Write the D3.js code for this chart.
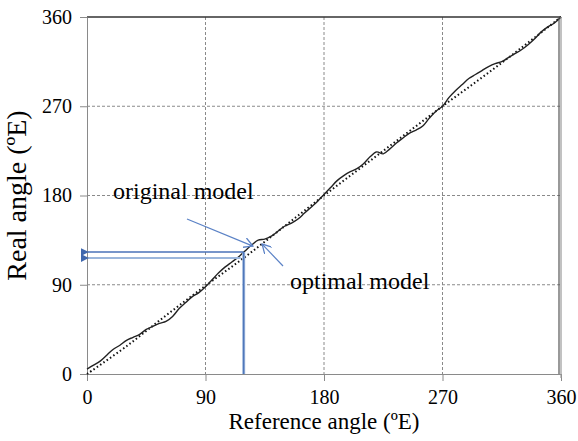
<!DOCTYPE html>
<html>
<head>
<meta charset="utf-8">
<script src="https://cdn.jsdelivr.net/npm/d3@7"></script>
<style>
  body { margin: 0; background: #fff; }
  svg text { font-family: "Times New Roman", Times, "Liberation Serif", "DejaVu Serif", serif; fill: #000; }
</style>
</head>
<body>
<script>
var width = 578
var height = 441
var margin = { left: 87, right: 17, top: 17, bottom: 67 }
var serif = '"Times New Roman", Times, "Liberation Serif", "DejaVu Serif", serif'

// reference angle (ºE) vs real angle (ºE)
var origRef = [0, 5, 10, 15, 20, 25, 30, 35, 40, 45, 50, 55, 60, 65, 70, 75, 80, 85, 90, 95, 100, 105, 110, 115, 120, 125, 130, 135, 140, 145, 150, 155, 160, 165, 170, 175, 180, 185, 190, 195, 200, 205, 210, 215, 220, 225, 230, 235, 240, 245, 250, 255, 260, 265, 270, 275, 280, 285, 290, 295, 300, 305, 310, 315, 320, 325, 330, 335, 340, 345, 350, 355, 360]
var origVal = [5, 9, 13, 19, 25, 29, 34, 37, 40, 45, 48, 51, 53, 58, 66, 72, 78, 82, 88, 95, 102, 108, 113, 118, 124, 130, 135, 136, 139, 144, 149, 152, 156, 162, 168, 174, 181, 188, 195, 200, 204, 207, 212, 219, 224, 222, 227, 233, 238, 243, 246, 250, 258, 265, 270, 279, 286, 292, 298, 302, 306, 310, 313, 315, 319, 323, 327, 332, 338, 345, 350, 354, 360]
var optRef = [0, 30, 60, 90, 120, 150, 180, 210, 240, 270, 300, 330, 360]
var optVal = [0, 28, 59, 89, 118, 149, 180, 210, 240, 270, 299, 329, 360]
var ticks = [0, 90, 180, 270, 360]

// read-off example: reference 119 -> original 123, optimal 117
var pickRef = 119
var pickOrig = 123
var pickOpt = 117

var innerWidth = width - margin.left - margin.right
var innerHeight = height - margin.top - margin.bottom

var svg = d3.select('body').append('svg').attr('width', width).attr('height', height)
svg.append('rect').attr('width', width).attr('height', height).attr('fill', '#fff')
var g = svg.append('g').attr('transform', `translate(${margin.left}, ${margin.top})`)

var x = d3.scaleLinear().domain([0, 360]).range([0, innerWidth])
var y = d3.scaleLinear().domain([0, 360]).range([innerHeight, 0])

// grid
g.selectAll('.gx').data(ticks.filter(d => d > 0 && d < 360)).enter().append('line')
    .attr('x1', d => x(d)).attr('x2', d => x(d)).attr('y1', 0).attr('y2', innerHeight)
    .attr('stroke', '#8a8a8a').attr('stroke-width', 1).attr('stroke-dasharray', '3,2')
g.selectAll('.gy').data(ticks.filter(d => d > 0 && d < 360)).enter().append('line')
    .attr('x1', 0).attr('x2', innerWidth).attr('y1', d => y(d)).attr('y2', d => y(d))
    .attr('stroke', '#8a8a8a').attr('stroke-width', 1).attr('stroke-dasharray', '3,2')
g.append('line').attr('x1', 0).attr('x2', innerWidth).attr('y1', y(360)).attr('y2', y(360))
    .attr('stroke', '#333').attr('stroke-width', 1.5)

// axes
var xAxis = d3.axisBottom(x).tickValues(ticks).tickSize(7).tickSizeOuter(0).tickPadding(9)
var yAxis = d3.axisLeft(y).tickValues(ticks).tickSize(7).tickSizeOuter(0).tickPadding(8)
var gx = g.append('g').attr('transform', `translate(0,${innerHeight})`).call(xAxis)
var gy = g.append('g').call(yAxis)
;[gx, gy].forEach(a => {
    a.attr('font-family', serif).attr('font-size', 20)
    a.select('.domain').attr('stroke', '#8a8a8a')
    a.selectAll('.tick line').attr('stroke', '#8a8a8a')
    a.selectAll('.tick text').attr('fill', '#000')
})

// series
var line = d3.line().x(d => x(d[0])).y(d => y(d[1])).curve(d3.curveCatmullRom)
var orig = origRef.map((r, i) => [r, origVal[i]])
var opt = optRef.map((r, i) => [r, optVal[i]])

g.append('path').datum(opt).attr('d', line).attr('fill', 'none')
    .attr('stroke', '#111').attr('stroke-width', 2).attr('stroke-dasharray', '1.5,2.5')
g.append('path').datum(orig).attr('d', line).attr('fill', 'none')
    .attr('stroke', '#222').attr('stroke-width', 1.4)
// wrap back to 0 at 360
g.append('line').attr('x1', x(360) - 2).attr('x2', x(360) - 2).attr('y1', y(360)).attr('y2', y(0))
    .attr('stroke', '#555').attr('stroke-width', 1.2)
g.append('line').attr('x1', x(360)).attr('x2', x(360)).attr('y1', y(360)).attr('y2', y(0) + 4)
    .attr('stroke', '#999').attr('stroke-width', 1.2)

// read-off lines
var defs = svg.append('defs')
defs.append('marker').attr('id', 'tri').attr('viewBox', '0 0 10 10').attr('refX', 1).attr('refY', 5)
    .attr('markerWidth', 8).attr('markerHeight', 8).attr('markerUnits', 'userSpaceOnUse').attr('orient', 'auto-start-reverse')
    .append('path').attr('d', 'M0,5L10,0L10,10Z').attr('fill', '#3f67ad')
defs.append('marker').attr('id', 'open').attr('viewBox', '0 0 10 10').attr('refX', 9).attr('refY', 5)
    .attr('markerWidth', 10).attr('markerHeight', 10).attr('markerUnits', 'userSpaceOnUse').attr('orient', 'auto')
    .append('path').attr('d', 'M0,0L9,5L0,10').attr('fill', 'none').attr('stroke', '#5b82c6').attr('stroke-width', 1.3)

g.append('line').attr('x1', x(pickRef)).attr('x2', x(pickRef)).attr('y1', y(0)).attr('y2', y(pickOrig))
    .attr('stroke', '#9bb6dc').attr('stroke-width', 3)
g.append('line').attr('x1', x(pickRef)).attr('x2', x(pickRef)).attr('y1', y(0)).attr('y2', y(pickOrig))
    .attr('stroke', '#4a72b8').attr('stroke-width', 1.2)
g.append('line').attr('x1', x(pickRef)).attr('x2', 1).attr('y1', y(pickOrig)).attr('y2', y(pickOrig))
    .attr('stroke', '#4a72b8').attr('stroke-width', 1.5).attr('marker-end', 'url(#tri)')
g.append('line').attr('x1', x(pickRef) - 3).attr('x2', 1).attr('y1', y(pickOpt)).attr('y2', y(pickOpt))
    .attr('stroke', '#9bb6dc').attr('stroke-width', 2.2).attr('marker-end', 'url(#tri)')

// annotation labels
g.append('text').attr('x', 26).attr('y', 182).attr('font-family', serif).attr('font-size', 24).text('original model')
g.append('line').attr('x1', 100).attr('y1', 202).attr('x2', x(126)).attr('y2', y(129))
    .attr('stroke', '#5b82c6').attr('stroke-width', 1.2).attr('marker-end', 'url(#open)')
g.append('text').attr('x', 203).attr('y', 272).attr('font-family', serif).attr('font-size', 24).text('optimal model')
g.append('line').attr('x1', 196).attr('y1', 249).attr('x2', x(133)).attr('y2', y(131))
    .attr('stroke', '#5b82c6').attr('stroke-width', 1.2).attr('marker-end', 'url(#open)')

// axis titles
svg.append('text').attr('x', margin.left + innerWidth / 2).attr('y', 429).attr('text-anchor', 'middle')
    .attr('font-family', serif).attr('font-size', 23).text('Reference angle (ºE)')
svg.append('text').attr('transform', `translate(26, ${margin.top + innerHeight / 2}) rotate(-90)`)
    .attr('text-anchor', 'middle').attr('font-family', serif).attr('font-size', 28).text('Real angle (ºE)')
</script>
</body>
</html>
